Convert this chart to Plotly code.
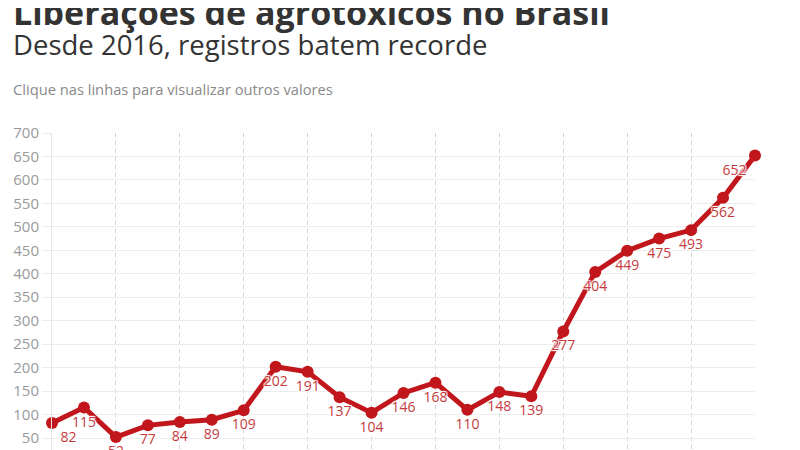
import plotly.graph_objects as go

# liberações de agrotóxicos por ano
anos = list(range(2000, 2023))
registros = [82, 115, 52, 77, 84, 89, 109, 202, 191, 137, 104, 146,
             168, 110, 148, 139, 277, 404, 449, 475, 493, 562, 652]

titulo = "Liberações de agrotóxicos no Brasil"
subtitulo = "Desde 2016, registros batem recorde"
nota = "Clique nas linhas para visualizar outros valores"

vermelho = "#c1161c"
fonte = "Open Sans"

posicoes = ["bottom center"] * len(anos)
posicoes[0] = "bottom right"
posicoes[-1] = "bottom left"

halo = "1px 1px 1px #fff, -1px -1px 1px #fff, 1px -1px 1px #fff, -1px 1px 1px #fff"

fig = go.Figure()
fig.add_trace(go.Scatter(
    x=anos,
    y=registros,
    mode="lines+markers+text",
    text=[str(v) for v in registros],
    textposition=posicoes,
    textfont=dict(family=fonte, size=14, color="#c53a3c", shadow=halo),
    line=dict(color=vermelho, width=5),
    marker=dict(color=vermelho, size=12),
    cliponaxis=False,
    hoverinfo="x+y",
))

# a página tem margem de 8px; área do gráfico na figura: x 44..747, y 125..450
def py(fig_y):
    return (450 - fig_y) / 325

def px_(fig_x):
    return (fig_x - 44) / 703

fig.add_annotation(text="<b>" + titulo + "</b>", xref="paper", yref="paper",
                   x=px_(3), y=py(4), xanchor="left", yanchor="middle",
                   showarrow=False, font=dict(family=fonte, size=34, color="#333333"))
fig.add_annotation(text=subtitulo, xref="paper", yref="paper",
                   x=px_(3), y=py(36), xanchor="left", yanchor="middle",
                   showarrow=False, font=dict(family=fonte, size=27.5, color="#333333"))
fig.add_annotation(text=nota, xref="paper", yref="paper",
                   x=px_(3), y=py(81), xanchor="left", yanchor="middle",
                   showarrow=False, font=dict(family=fonte, size=14.7, color="#8a8a8a"))

fig.update_layout(
    width=800, height=450,
    margin=dict(l=44, r=53, t=125, b=0),
    paper_bgcolor="white",
    plot_bgcolor="white",
    showlegend=False,
    font=dict(family=fonte),
    xaxis=dict(
        range=[2000, 2022],
        dtick=2,
        tick0=2000,
        showgrid=True,
        gridcolor="#d2d2d2",
        griddash="4px,4px",
        gridwidth=1,
        showticklabels=False,
        zeroline=False,
        showline=False,
        automargin=False,
    ),
    yaxis=dict(
        range=[7.4, 700],
        dtick=50,
        tick0=0,
        showgrid=True,
        gridcolor="#ececec",
        gridwidth=1,
        ticks="outside",
        ticklen=9,
        tickcolor="#ececec",
        tickfont=dict(family=fonte, size=15, color="#9a9a9a"),
        showline=True,
        linecolor="#e6e6e6",
        linewidth=1,
        zeroline=False,
        automargin=False,
    ),
)

fig.write_html("out.html")
